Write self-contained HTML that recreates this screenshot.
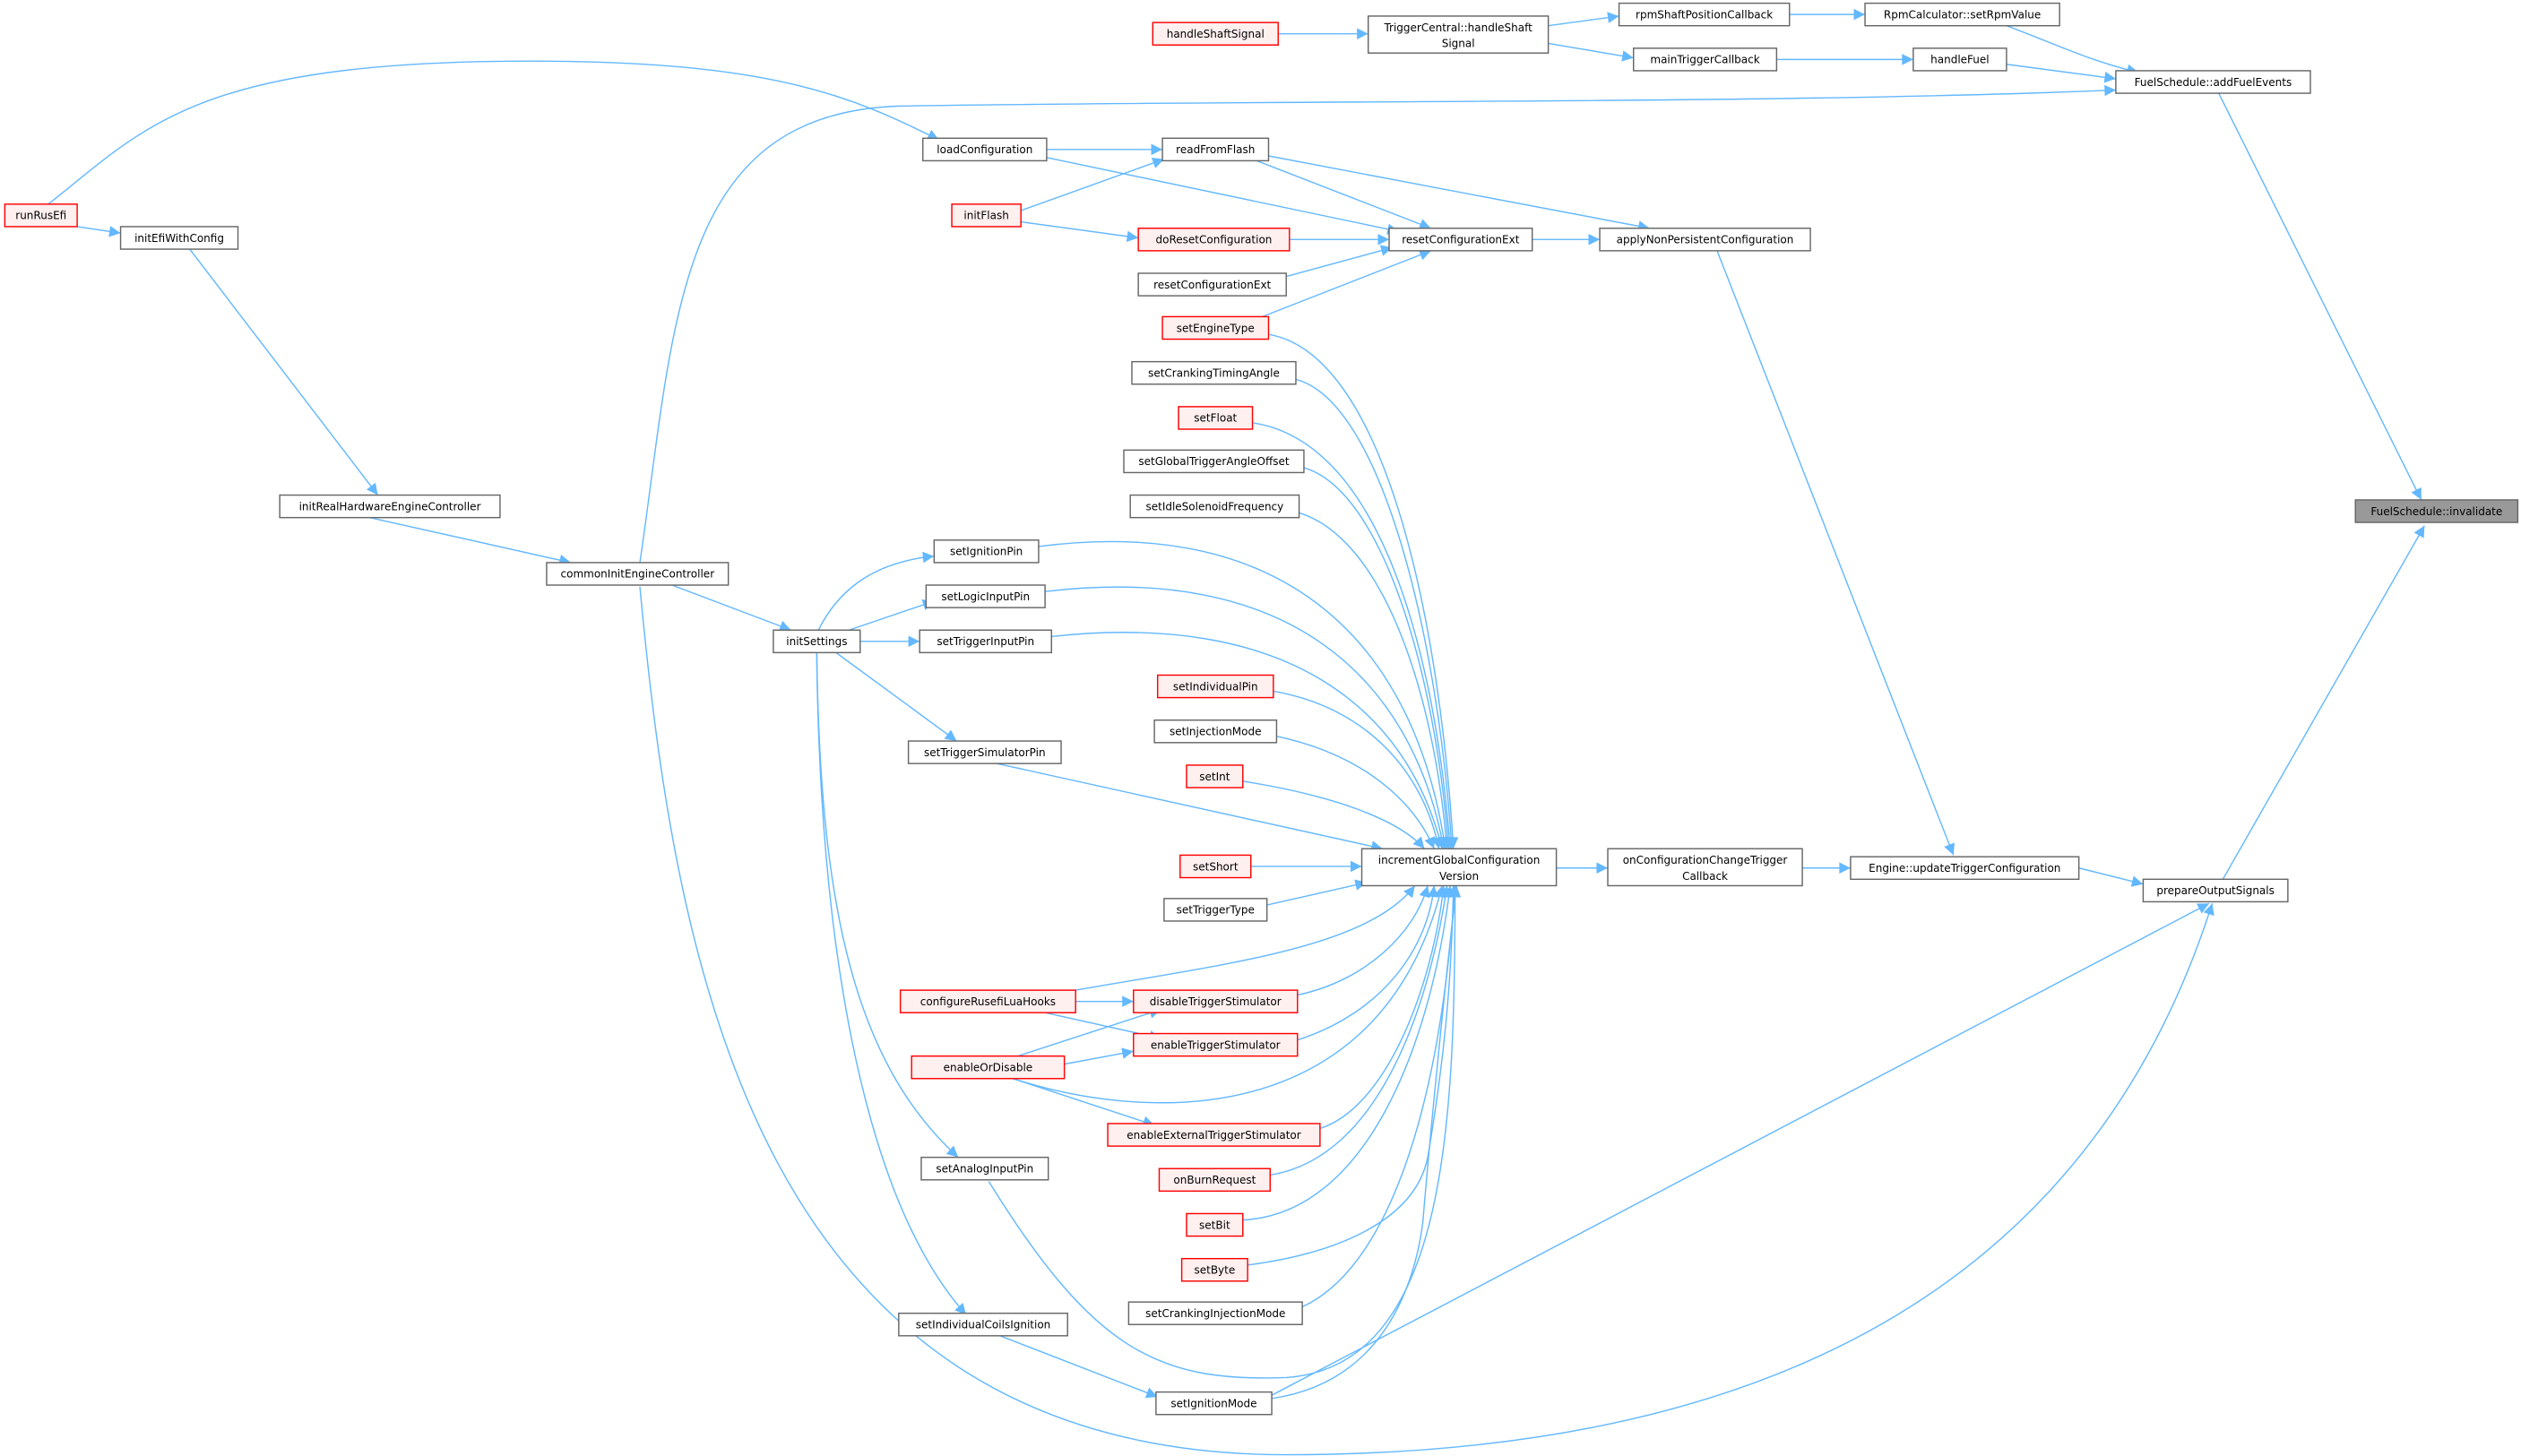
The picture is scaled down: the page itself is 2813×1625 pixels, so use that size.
<!DOCTYPE html>
<html><head><meta charset="utf-8"><style>html,body{margin:0;padding:0;background:#fff}svg{display:block}</style></head>
<body>
<svg width="2813" height="1625" viewBox="0 0 1568 905.8" preserveAspectRatio="none" xmlns="http://www.w3.org/2000/svg" font-family="DejaVu Sans, Liberation Sans, sans-serif" font-size="6.7">
<defs><marker id="a" viewBox="0 0 10 10" refX="10" refY="5" markerWidth="9" markerHeight="7" markerUnits="userSpaceOnUse" orient="auto"><path d="M0,0L10,5L0,10z" fill="#63b8ff"/></marker></defs>
<g fill="none" stroke="#63b8ff" stroke-width="0.8" marker-end="url(#a)">
<path d="M795,21L851,21"/>
<path d="M963,16L1007,10"/>
<path d="M963,27L1016,36"/>
<path d="M1113,9L1160,9"/>
<path d="M1105,37L1190,37"/>
<path d="M1248,16C1280,28 1300,38 1330,45"/>
<path d="M1248,40L1316,49"/>
<path d="M1380,58L1506,311"/>
<path d="M1382,548L1508,327"/>
<path d="M30,127C90,80 120,38 330,38C480,38 530,60 584,87"/>
<path d="M398,350C420,200 420,70 560,66C800,62 1100,65 1316,56"/>
<path d="M651,93L723,93"/>
<path d="M635,131L724,99"/>
<path d="M651,98L870,144"/>
<path d="M635,138L708,148"/>
<path d="M802,149L864,149"/>
<path d="M800,172L866,154"/>
<path d="M780,199L890,156"/>
<path d="M779,99L890,142"/>
<path d="M789,97L1026,142"/>
<path d="M953,149L995,149"/>
<path d="M1068,156L1215,532"/>
<path d="M48,141L75,145"/>
<path d="M118,155L235,308"/>
<path d="M230,322L355,350"/>
<path d="M418,364L492,392"/>
<path d="M509,392C520,370 540,350 581,346"/>
<path d="M528,392L581,374"/>
<path d="M535,399L572,399"/>
<path d="M520,406L595,461"/>
<path d="M508,406C510,560 530,660 596,720"/>
<path d="M508,406C510,600 540,750 601,818"/>
<path d="M622,831L720,869"/>
<path d="M669,623L705,623"/>
<path d="M650,630L722,646"/>
<path d="M630,658L722,628"/>
<path d="M662,662L705,654"/>
<path d="M630,671L718,700"/>
<path d="M398,365C420,600 470,905 800,905C1100,905 1300,800 1376,562"/>
<path d="M791,868L1374,562"/>
<path d="M615,735C680,840 720,860 800,857C900,850 905,700 905,551"/>
<path d="M968,540L1000,540"/>
<path d="M1121,540L1151,540"/>
<path d="M1293,540L1333,550"/>
<path d="M789,208C860,220 895,380 904,528"/>
<path d="M806,236C860,250 895,400 903,528"/>
<path d="M779,263C860,275 893,410 902,528"/>
<path d="M811,291C860,305 893,420 901,528"/>
<path d="M808,319C860,335 892,430 900,528"/>
<path d="M646,340C800,320 880,400 899,528"/>
<path d="M650,368C800,350 878,420 898,528"/>
<path d="M654,396C800,380 875,440 897,528"/>
<path d="M792,430C850,440 885,480 895,528"/>
<path d="M794,458C850,470 880,500 892,528"/>
<path d="M773,486C830,495 870,510 886,528"/>
<path d="M620,475L860,528"/>
<path d="M778,539L847,539"/>
<path d="M788,563L850,549"/>
<path d="M669,616C760,600 850,590 880,551"/>
<path d="M807,619C850,610 880,580 888,551"/>
<path d="M807,647C860,630 888,590 892,551"/>
<path d="M630,671C720,700 860,700 897,551"/>
<path d="M821,702C860,690 890,620 898,551"/>
<path d="M790,731C860,720 890,620 900,551"/>
<path d="M773,759C850,755 890,650 902,551"/>
<path d="M776,787C830,780 880,760 888,720C900,650 903,600 904,551"/>
<path d="M810,813C860,790 895,700 905,551"/>
<path d="M791,870C860,860 880,800 885,760C890,700 900,600 906,551"/>
</g>
<g stroke-width="0.8">
<g fill="#fff" stroke="#666">
<rect x="851" y="10" width="112" height="23"/>
<rect x="1007" y="2" width="106" height="14"/>
<rect x="1160" y="2" width="121" height="14"/>
<rect x="1016" y="30" width="89" height="14"/>
<rect x="1190" y="30" width="58" height="14"/>
<rect x="1316" y="44" width="121" height="14"/>
<rect x="574" y="86" width="77" height="14"/>
<rect x="723" y="86" width="66" height="14"/>
<rect x="864" y="142" width="89" height="14"/>
<rect x="995" y="142" width="131" height="14"/>
<rect x="75" y="141" width="73" height="14"/>
<rect x="708" y="170" width="92" height="14"/>
<rect x="704" y="225" width="102" height="14"/>
<rect x="699" y="280" width="112" height="14"/>
<rect x="703" y="308" width="105" height="14"/>
<rect x="174" y="308" width="137" height="14"/>
<rect x="581" y="336" width="65" height="14"/>
<rect x="340" y="350" width="113" height="14"/>
<rect x="576" y="364" width="74" height="14"/>
<rect x="481" y="392" width="54" height="14"/>
<rect x="572" y="392" width="82" height="14"/>
<rect x="718" y="448" width="76" height="14"/>
<rect x="565" y="461" width="95" height="14"/>
<rect x="847" y="528" width="121" height="23"/>
<rect x="1000" y="528" width="121" height="23"/>
<rect x="1151" y="533" width="142" height="14"/>
<rect x="1333" y="547" width="90" height="14"/>
<rect x="724" y="559" width="64" height="14"/>
<rect x="573" y="720" width="79" height="14"/>
<rect x="702" y="810" width="108" height="14"/>
<rect x="559" y="817" width="105" height="14"/>
<rect x="719" y="866" width="72" height="14"/>
</g>
<rect x="1465" y="311" width="101" height="14" fill="#999" stroke="#666"/>
<g fill="#fff0f0" stroke="#ff0000">
<rect x="717" y="14" width="78" height="14"/>
<rect x="3" y="127" width="45" height="14"/>
<rect x="592" y="127" width="43" height="14"/>
<rect x="708" y="142" width="94" height="14"/>
<rect x="723" y="197" width="66" height="14"/>
<rect x="733" y="253" width="46" height="14"/>
<rect x="720" y="420" width="72" height="14"/>
<rect x="738" y="476" width="35" height="14"/>
<rect x="734" y="532" width="44" height="14"/>
<rect x="560" y="616" width="109" height="14"/>
<rect x="705" y="616" width="102" height="14"/>
<rect x="705" y="643" width="102" height="14"/>
<rect x="567" y="657" width="95" height="14"/>
<rect x="689" y="699" width="132" height="14"/>
<rect x="721" y="727" width="69" height="14"/>
<rect x="738" y="755" width="35" height="14"/>
<rect x="735" y="783" width="41" height="14"/>
</g>
</g>
<g fill="#000" text-anchor="middle">
<text x="756" y="23.4">handleShaftSignal</text>
<text x="907" y="19.4">TriggerCentral::handleShaft</text>
<text x="907" y="29.4">Signal</text>
<text x="1060" y="11.4">rpmShaftPositionCallback</text>
<text x="1220.5" y="11.4">RpmCalculator::setRpmValue</text>
<text x="1060.5" y="39.4">mainTriggerCallback</text>
<text x="1219" y="39.4">handleFuel</text>
<text x="1376.5" y="53.4">FuelSchedule::addFuelEvents</text>
<text x="612.5" y="95.4">loadConfiguration</text>
<text x="756" y="95.4">readFromFlash</text>
<text x="25.5" y="136.4">runRusEfi</text>
<text x="613.5" y="136.4">initFlash</text>
<text x="755" y="151.4">doResetConfiguration</text>
<text x="908.5" y="151.4">resetConfigurationExt</text>
<text x="1060.5" y="151.4">applyNonPersistentConfiguration</text>
<text x="111.5" y="150.4">initEfiWithConfig</text>
<text x="754" y="179.4">resetConfigurationExt</text>
<text x="756" y="206.4">setEngineType</text>
<text x="755" y="234.4">setCrankingTimingAngle</text>
<text x="756" y="262.4">setFloat</text>
<text x="755" y="289.4">setGlobalTriggerAngleOffset</text>
<text x="755.5" y="317.4">setIdleSolenoidFrequency</text>
<text x="242.5" y="317.4">initRealHardwareEngineController</text>
<text x="1515.5" y="320.4">FuelSchedule::invalidate</text>
<text x="613.5" y="345.4">setIgnitionPin</text>
<text x="396.5" y="359.4">commonInitEngineController</text>
<text x="613" y="373.4">setLogicInputPin</text>
<text x="508" y="401.4">initSettings</text>
<text x="613" y="401.4">setTriggerInputPin</text>
<text x="756" y="429.4">setIndividualPin</text>
<text x="756" y="457.4">setInjectionMode</text>
<text x="755.5" y="485.4">setInt</text>
<text x="612.5" y="470.4">setTriggerSimulatorPin</text>
<text x="756" y="541.4">setShort</text>
<text x="907.5" y="537.4">incrementGlobalConfiguration</text>
<text x="907.5" y="547.4">Version</text>
<text x="1060.5" y="537.4">onConfigurationChangeTrigger</text>
<text x="1060.5" y="547.4">Callback</text>
<text x="1222" y="542.4">Engine::updateTriggerConfiguration</text>
<text x="1378" y="556.4">prepareOutputSignals</text>
<text x="756" y="568.4">setTriggerType</text>
<text x="614.5" y="625.4">configureRusefiLuaHooks</text>
<text x="756" y="625.4">disableTriggerStimulator</text>
<text x="756" y="652.4">enableTriggerStimulator</text>
<text x="614.5" y="666.4">enableOrDisable</text>
<text x="755" y="708.4">enableExternalTriggerStimulator</text>
<text x="612.5" y="729.4">setAnalogInputPin</text>
<text x="755.5" y="736.4">onBurnRequest</text>
<text x="755.5" y="764.4">setBit</text>
<text x="755.5" y="792.4">setByte</text>
<text x="756" y="819.4">setCrankingInjectionMode</text>
<text x="611.5" y="826.4">setIndividualCoilsIgnition</text>
<text x="755" y="875.4">setIgnitionMode</text>
</g>
</svg>
</body></html>
